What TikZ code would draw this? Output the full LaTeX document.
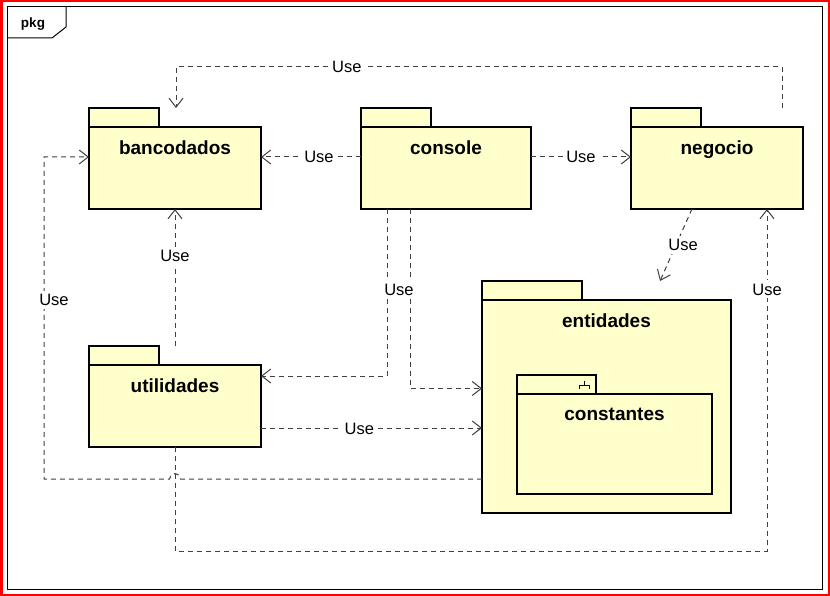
\documentclass[tikz,border=0pt]{standalone}
\usepackage{fontspec}
\setmainfont{Liberation Sans}
\usetikzlibrary{arrows.meta,positioning}
\definecolor{pkgfill}{RGB}{255,255,204}
\definecolor{depgray}{RGB}{64,64,64}
\tikzset{
    pkgbody/.style={draw=black,fill=pkgfill,line width=2.4pt,inner sep=0pt,outer sep=0pt},
    pkgtab/.style={pkgbody,minimum height=19pt},
    pkgname/.style={font=\fontsize{19}{22}\selectfont\bfseries,text height=13.5pt,text depth=0pt,inner sep=0pt},
    dep/.style={depgray,line width=1pt,dash pattern=on 5pt off 4pt,-{Straight Barb[length=9pt,width=14pt]}},
    uselabel/.style={fill=white,text=black,font=\fontsize{16.5}{19}\selectfont,text height=12pt,text depth=0pt,inner sep=3pt}
}
\begin{document}
\begin{tikzpicture}[x=1pt,y=-1pt]
\useasboundingbox[fill=white] (0,0) rectangle (830,596);
\draw[red,line width=2.5pt] (1.25,1.25) rectangle (828.75,594.75);
% frame
\draw[black,line width=1pt] (7,7) rectangle (822,589);
\draw[black,line width=1pt] (7,38) -- (52,38) -- (66,27) -- (66,7);
\node[font=\fontsize{13.5}{16}\selectfont\bfseries] (pkglabel) at (33,24) {pkg};
% packages
\node[pkgbody,anchor=north west,minimum width=172pt,minimum height=82pt] (bancodados) at (89,127) {};
\node[pkgtab,minimum width=70pt,above right=0pt and 0pt of bancodados.north west] (bancodadostab) {};
\node[pkgname] (bancodadosname) at ([yshift=-21pt]bancodados.north) {bancodados};
\node[pkgbody,anchor=north west,minimum width=170pt,minimum height=82pt] (console) at (361,127) {};
\node[pkgtab,minimum width=70pt,above right=0pt and 0pt of console.north west] (consoletab) {};
\node[pkgname] (consolename) at ([yshift=-21pt]console.north) {console};
\node[pkgbody,anchor=north west,minimum width=172pt,minimum height=82pt] (negocio) at (631,127) {};
\node[pkgtab,minimum width=70pt,above right=0pt and 0pt of negocio.north west] (negociotab) {};
\node[pkgname] (negocioname) at ([yshift=-21pt]negocio.north) {negocio};
\node[pkgbody,anchor=north west,minimum width=172pt,minimum height=82pt] (utilidades) at (89,365) {};
\node[pkgtab,minimum width=70pt,above right=0pt and 0pt of utilidades.north west] (utilidadestab) {};
\node[pkgname] (utilidadesname) at ([yshift=-21pt]utilidades.north) {utilidades};
\node[pkgbody,anchor=north west,minimum width=249pt,minimum height=213pt] (entidades) at (482,300) {};
\node[pkgtab,minimum width=100pt,above right=0pt and 0pt of entidades.north west] (entidadestab) {};
\node[pkgname] (entidadesname) at ([yshift=-21pt]entidades.north) {entidades};
\node[pkgbody,anchor=north west,minimum width=195pt,minimum height=100pt] (constantes) at (517,394) {};
\node[pkgtab,minimum width=79pt,above right=0pt and 0pt of constantes.north west] (constantestab) {};
\node[pkgname] (constantesname) at ([yshift=-20pt]constantes.north) {constantes};
\draw[black,line width=1pt] (584,381) -- (584,385) (579,389) -- (579,385) -- (589,385) -- (589,389);
% dependencies
\draw[dep] ([shift={(-21pt,19pt)}]negocio.north east) -- ++(0,-41) -| ([shift={(87pt,19pt)}]bancodados.north west) node[uselabel,pos=0.359]{Use};
\draw[dep] ([yshift=11pt]console.west) -- ([yshift=11pt]bancodados.east) node[uselabel,pos=0.42]{Use};
\draw[dep] ([yshift=11pt]console.east) -- ([yshift=11pt]negocio.west) node[uselabel,midway]{Use};
\draw[dep] ([yshift=19pt]utilidades.north) -- (bancodados.south) node[uselabel,pos=0.657]{Use};
\draw[dep] ([xshift=-25pt]negocio.south) -- ([shift={(-71pt,19pt)}]entidades.north east) node[uselabel,midway,xshift=7pt]{Use};
\draw[dep] ([xshift=26pt]console.south west) |- ([yshift=-11pt]utilidades.north east);
\draw[dep] ([xshift=49pt]console.south west) |- ([yshift=18pt]entidades.west) node[uselabel,pos=0.223,xshift=-11pt]{Use};
\draw[dep] ([yshift=-22pt]utilidades.east) -- ([yshift=-21.5pt]entidades.west) node[uselabel,pos=0.445]{Use};
\draw[dep] ([yshift=-72.5pt]entidades.west) -- (180.5,479) arc[start angle=0,end angle=-180,radius=5.5] -- (44,479) |- ([yshift=11pt]bancodados.west) node[uselabel,pos=0.278,xshift=10pt]{Use};
\draw[dep] (utilidades.south) -- ++(0,104) -| ([xshift=50pt]negocio.south) node[uselabel,pos=0.883]{Use};
\end{tikzpicture}
\end{document}
